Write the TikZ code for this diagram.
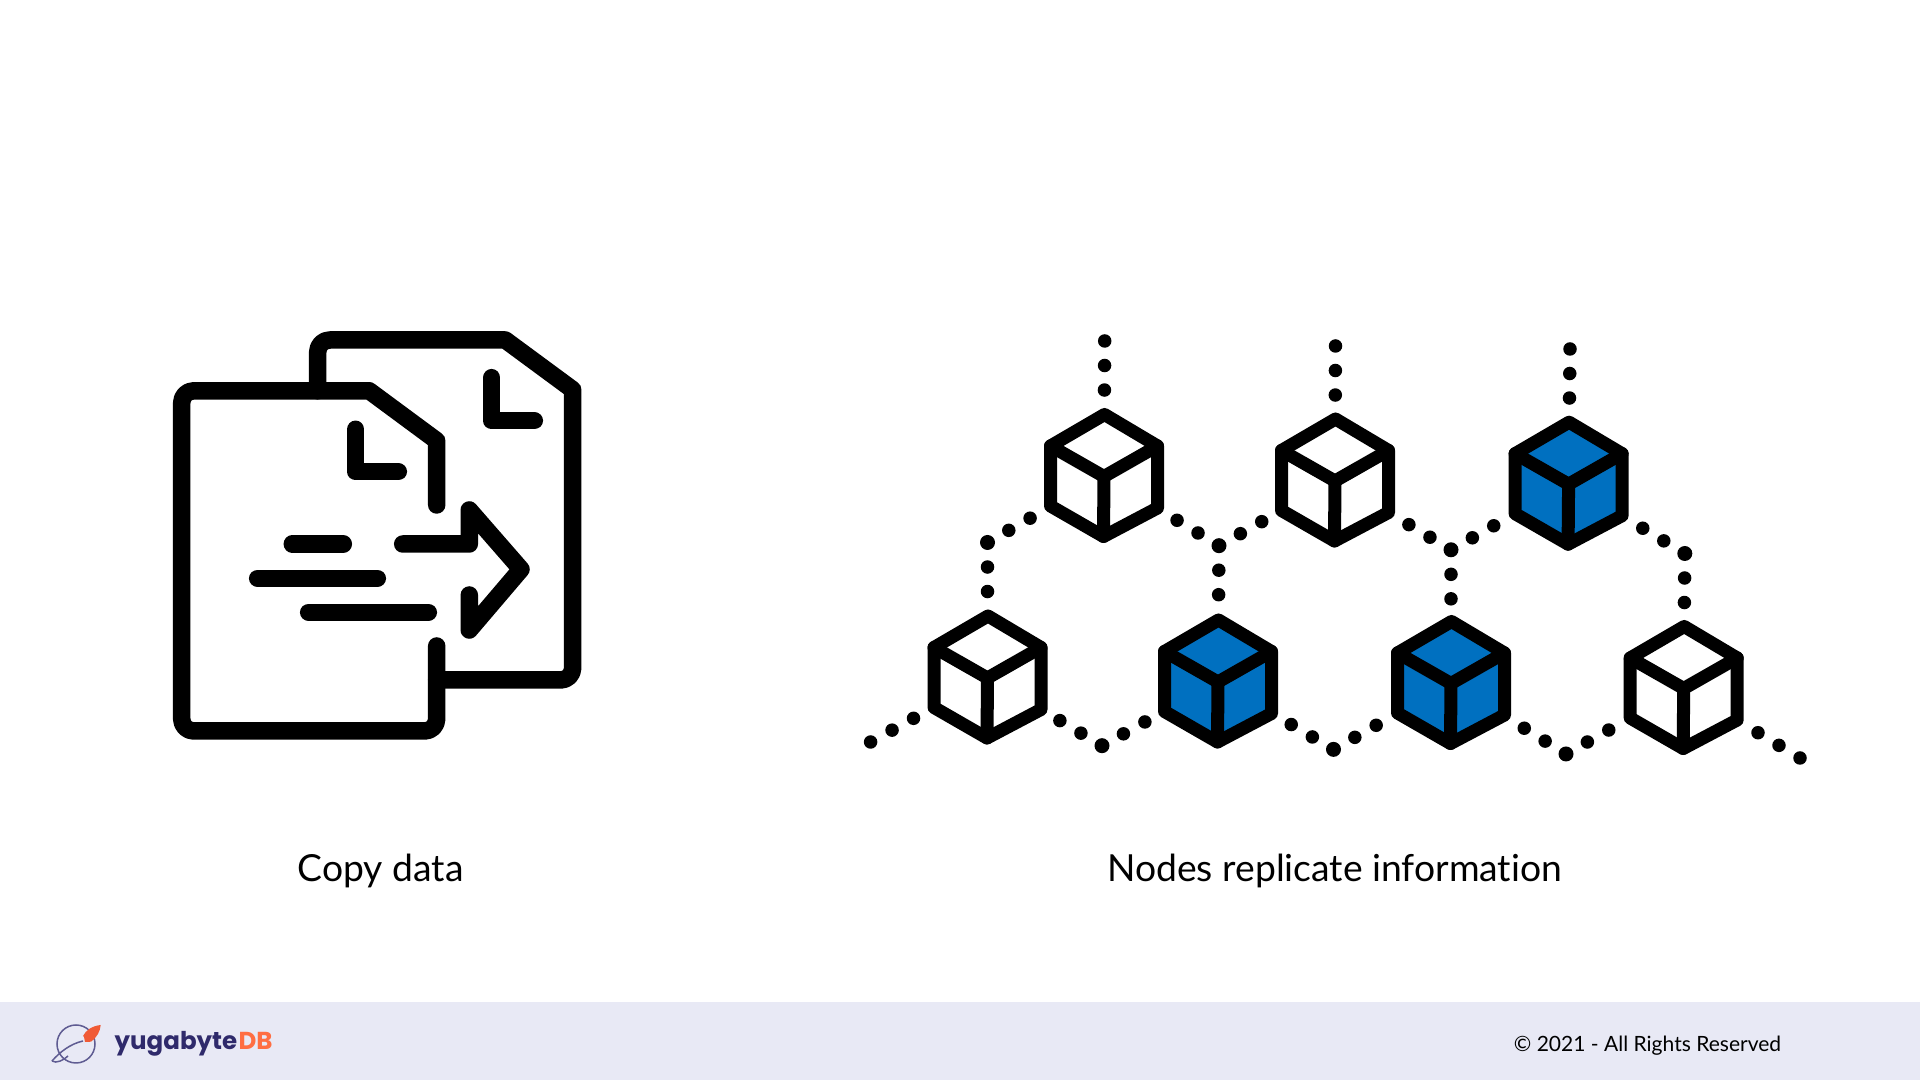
\documentclass[tikz,border=0pt]{standalone}
\usepackage{fontspec}
\setmainfont{Lato}[Ligatures=CommonOff]
\newfontfamily\logofont{Poppins}
\definecolor{cubeblue}{HTML}{0070C0}
\definecolor{footerbg}{HTML}{E8E9F5}
\definecolor{logoink}{HTML}{2F2A6B}
\definecolor{logoring}{HTML}{5F5C92}
\definecolor{logoorange}{HTML}{FF6E42}
\definecolor{rocketred}{HTML}{F05A35}
\tikzset{
  x=.01cm,y=-.01cm,
  iconline/.style={line width=1.75mm,line cap=round,line join=round},
  cubeline/.style={line width=1.3mm,line join=round,line cap=round},
  dotlink/.style={line width=1.35mm,line cap=round,dash pattern=on 0pt off 2.45mm,shorten >=8mm},
  blank/.style={inner sep=0pt,minimum size=0pt},
  caption/.style={inner sep=0pt,font=\fontsize{10.6}{12}\selectfont},
  cube/.pic={
    \draw[cubeline,pic actions] (.5,-61.5)--(-53.5,-30)--(-53.5,30)--(-.5,60.5)--(53.5,32)--(53.5,-30)--cycle;
    \draw[cubeline] (-53.5,-30)--(0,.5)--(53.5,-30);
    \draw[cubeline] (0,.5)--(-.5,60.5);
  },
}
\begin{document}
\begin{tikzpicture}
    \useasboundingbox (0,0) rectangle (1920,1080);
    \fill[footerbg] (0,1002) rectangle (1920,1080);
    % documents
    \draw[iconline] (436.7,505)--(436.7,440.7)--(369.2,390.8)[rounded corners=1.2mm]--(181.7,390.8)
    --(181.7,731)--(436.7,731)--(436.7,646);
    \draw[iconline,rounded corners=1.2mm] (317.7,390.8)--(317.7,340)[sharp corners]--(505.3,340)--(572.7,389.7)
    [rounded corners=1.2mm]--(572.7,680)--(436.7,680);
    \draw[iconline] (355.7,429.3)--(355.7,471.7)--(398.3,471.7);
    \draw[iconline] (491.7,377.7)--(491.7,420.7)--(534.3,420.7);
    \draw[iconline] (292.3,544)--(343.3,544);
    \draw[iconline] (257.7,578.3)--(377.3,578.3);
    \draw[iconline] (308.7,612.3)--(428.3,612.3);
    \draw[iconline] (402.7,544)--(469.3,544)--(469.3,510)--(521,569.3)--(469.3,630)--(469.3,595);
    % cubes
    \foreach \cname/\cx/\cy in {ta/1104/476,tb/1335/480.5,bc/987.5/677.5,bd/1683.7/688}{
      \node[blank] (\cname) at (\cx,\cy) {};
      \pic at (\cname) {cube};
    }
    \foreach \cname/\cx/\cy in {tc/1568.6/483.7,ba/1218/681.5,bb/1451/683}{
      \node[blank] (\cname) at (\cx,\cy) {};
      \pic[fill=cubeblue] at (\cname) {cube};
    }
    % link ends
    \foreach \jname/\jx/\jy in {ua/1104.7/341,ub/1335.5/346,uc/1570/349,ka/870.6/742,ke/1800/758}{
      \coordinate (\jname) at (\jx,\jy);
    }
    \foreach \jname/\jx/\jy in {ja/987.5/542.5,jb/1219/545.7,jc/1451/549.8,jd/1684.8/553.5,
      kb/1102/745.7,kc/1333.5/749.4,kd/1566/754}{
      \coordinate (\jname) at (\jx,\jy);
      \fill (\jname) circle (7.5);
    }
    \foreach \from/\to in {ua/ta,ub/tb,uc/tc,ja/ta,ja/bc,jb/ta,jb/tb,jb/ba,jc/tb,jc/tc,jc/bb,jd/tc,jd/bd,
      ka/bc,kb/bc,kb/ba,kc/ba,kc/bb,kd/bb,kd/bd,ke/bd}{
      \draw[dotlink] (\from)--(\to);
    }
    % labels
    \node[caption] (copylabel) at (380.8,870.5) {Copy data};
    \node[caption] (nodeslabel) at (1334.7,870.5) {Nodes replicate information};
    \node[inner sep=0pt,font=\fontsize{5.98}{8}\selectfont] (rights) at (1647.5,1045.5) {© 2021 - All Rights Reserved};
    % logo
    \draw[logoring,line width=.15mm] (76,1044) circle (19);
    \draw[logoring,line width=.15mm] (52,1061) .. controls (60,1052) and (70,1044) .. (83,1041);
    \draw[logoring,line width=.15mm] (52,1061) .. controls (56,1064) and (64,1060) .. (68,1056);
    \fill[rocketred] (100.7,1025) .. controls (92,1026) and (86,1030) .. (83,1036) -- (84,1037) -- (85,1042)
    -- (91,1041.7) .. controls (97,1037) and (100,1032) .. cycle;
    \node[inner sep=0pt,anchor=base west,font=\logofont\bfseries\fontsize{6.97}{9}\selectfont,text=logoink] (logotext) at (114,1050) {yugabyte};
    \node[inner sep=0pt,anchor=base west,font=\logofont\bfseries\fontsize{6.97}{9}\selectfont,text=logoorange] (logodb) at (logotext.base east) {DB};
\end{tikzpicture}
\end{document}
